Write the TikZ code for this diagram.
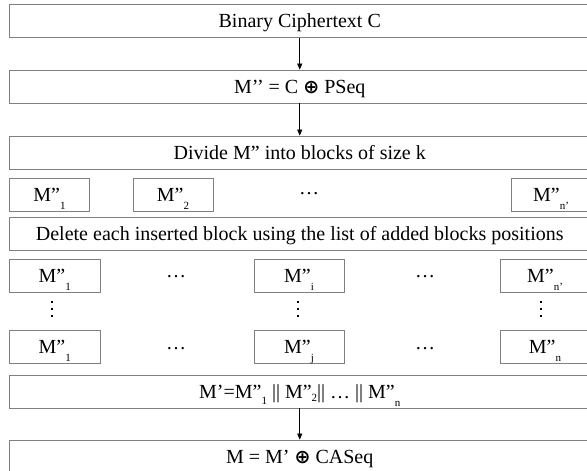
\documentclass[tikz,border=0pt]{standalone}
\usepackage{fontspec}
\setmainfont{Liberation Serif}
\newfontfamily\dejavu{DejaVu Sans}
\usetikzlibrary{arrows.meta}
\newcommand{\sbs}[2][8pt]{\raisebox{-#1}{\fontsize{11}{12}\selectfont #2}}
\newcommand{\xor}{{\dejavu\bfseries\fontsize{19}{22}\selectfont ⊕}}
\begin{document}
\begin{tikzpicture}[x=1pt,y=-1pt,
  every node/.style={font=\fontsize{20}{24}\selectfont},
  wide/.style={draw=gray, line width=0.8pt, minimum width=580.5pt, minimum height=33pt,
    text height=16pt, text depth=3pt, inner sep=0pt},
  blk/.style={draw=gray, line width=0.8pt, minimum height=33pt,
    text height=16pt, text depth=3pt, inner sep=0pt},
  hdots/.style={inner sep=0pt, anchor=base},
  vdot/.style={rectangle, fill=black, inner sep=0pt, minimum size=2.6pt},
  flow/.style={-{Triangle[length=6pt,width=5pt]}, line width=0.6pt, black}]
\useasboundingbox (0,0) rectangle (587,471);
% wide boxes
\node[wide] (b1) at (299.75,20.75) {Binary Ciphertext C};
\node[wide] (b2) at (299.75,86.5) {M’’ = C \xor{} PSeq};
\node[wide] (b3) at (299.75,152.5) {Divide M” into blocks of size k};
\node[wide] (b4) at (299.75,233.75) {Delete each inserted block using the list of added blocks positions};
\node[wide] (b5) at (299.75,391.5) {M’=M”\sbs[6pt]{1} || M”\sbs[3pt]{2}|| … || M”\sbs[8pt]{n}};
\node[wide] (b6) at (299.75,456.5) {M = M’ \xor{} CASeq};
% row 1
\node[blk, minimum width=80pt] (r11) at (49.5,194.5) {M”\sbs{1}};
\node[blk, minimum width=80pt] (r12) at (173,194.5) {M”\sbs{2}};
\node[hdots] (r1d) at (309,194) {…};
\node[blk, minimum width=80pt] (r1n) at (551,194.5) {M”\sbs{n’}};
% row 2
\node[blk, minimum width=90.5pt] (r21) at (54.75,276) {M”\sbs{1}};
\node[hdots] (r2d1) at (176,277) {…};
\node[blk, minimum width=90pt] (r2i) at (299,276) {M”\sbs{i}};
\node[hdots] (r2d2) at (425,277) {…};
\node[blk, minimum width=90pt] (r2n) at (545,276) {M”\sbs{n’}};
% vertical dots
\foreach \x/\n in {52/1, 298/2, 541/3}{
  \node[vdot] (v\n a) at (\x,302) {};
  \node[vdot] (v\n b) at (\x,309) {};
  \node[vdot] (v\n c) at (\x,316) {};
}
% row 3
\node[blk, minimum width=90.5pt] (r31) at (54.75,346.5) {M”\sbs{1}};
\node[hdots] (r3d1) at (176,349) {…};
\node[blk, minimum width=90pt] (r3j) at (299,346.5) {M”\sbs{j}};
\node[hdots] (r3d2) at (425,349) {…};
\node[blk, minimum width=90pt] (r3n) at (545,346.5) {M”\sbs{n}};
% arrows
\draw[flow] (b1) -- (b2);
\draw[flow] (b2) -- (b3);
\draw[flow] (b5) -- (b6);
\end{tikzpicture}
\end{document}
